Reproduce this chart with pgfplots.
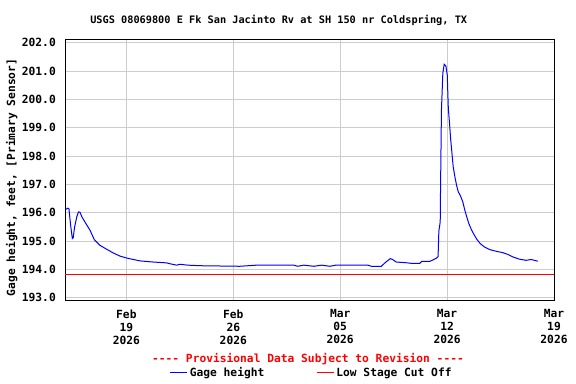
\documentclass[border=0pt]{standalone}
\usepackage{fontspec}
\setmonofont{DejaVu Sans Mono}
\renewcommand{\familydefault}{\ttdefault}
\usepackage{pgfplots}
\pgfplotsset{compat=1.18}
\newcommand{\lblfont}{\ttfamily\bfseries\fontsize{11.3}{13}\selectfont}
\newcommand{\ttlfont}{\ttfamily\bfseries\fontsize{10.3}{12}\selectfont}
\pgfplotstableread{
x y
0.05 196.12
0.14 196.16
0.24 196.14
0.34 195.60
0.46 195.09
0.52 195.12
0.61 195.50
0.75 195.85
0.86 196.03
0.96 196.02
1.09 195.85
1.29 195.67
1.62 195.38
1.90 195.05
2.27 194.85
2.71 194.71
3.14 194.58
3.58 194.47
4.02 194.40
4.89 194.30
5.76 194.26
6.63 194.23
6.85 194.20
7.29 194.15
7.50 194.18
8.02 194.15
8.81 194.13
11.42 194.11
12.54 194.15
14.96 194.15
15.22 194.11
15.61 194.15
16.27 194.11
16.79 194.15
17.32 194.11
17.71 194.15
19.80 194.15
20.05 194.11
20.69 194.11
20.97 194.25
21.28 194.38
21.43 194.35
21.67 194.26
22.22 194.24
22.74 194.21
23.20 194.21
23.33 194.28
23.85 194.28
24.05 194.33
24.31 194.40
24.41 194.45
24.46 195.35
24.55 195.68
24.57 196.82
24.63 199.62
24.72 200.92
24.81 201.24
24.92 201.18
25.01 200.86
25.08 199.68
25.16 199.15
25.23 198.62
25.31 198.15
25.40 197.62
25.51 197.27
25.62 196.97
25.73 196.74
25.88 196.59
26.03 196.38
26.16 196.09
26.29 195.85
26.42 195.62
26.58 195.42
26.75 195.24
26.95 195.06
27.17 194.91
27.45 194.79
27.78 194.70
28.21 194.64
28.65 194.59
28.97 194.53
29.30 194.44
29.74 194.36
30.18 194.32
30.50 194.35
30.94 194.29
}\gage
\begin{document}
\begin{tikzpicture}
\useasboundingbox (-65.3bp,-84bp) rectangle (510.7bp,300bp);
\begin{axis}[
  at={(0,0)}, anchor=south west,
  scale only axis, width=488.7bp, height=260.7bp,
  xmin=0, xmax=32, ymin=192.92, ymax=202.12,
  xtick={4,11,18,25,32},
  xticklabels={Feb\\19\\2026, Feb\\26\\2026, Mar\\05\\2026, Mar\\12\\2026, Mar\\19\\2026},
  ytick={193,194,...,202},
  grid=major,
  major grid style={color=black!20, line width=1bp},
  major tick length=0pt,
  axis line style={line width=1bp, black},
  /pgf/number format/assume math mode=true,
  yticklabel style={font=\lblfont, inner sep=0pt, anchor=east, xshift=-9.3bp,
    /pgf/number format/.cd, fixed, fixed zerofill, precision=1},
  xticklabel style={font=\lblfont, align=center, inner sep=0pt, anchor=north, yshift=-9.5bp},
  ylabel={Gage height, feet, [Primary Sensor]},
  ylabel style={font=\lblfont, at={(axis description cs:-0.1097,0.47)}, anchor=center, rotate=0},
  legend style={at={(axis description cs:0.5042,-0.279)}, anchor=center, draw=none, fill=none,
    legend columns=2, font=\lblfont,
    /tikz/every even column/.append style={column sep=50bp}},
  clip=false,
]
\addplot[blue, line width=1bp, sharp plot] table[x=x,y=y] {\gage};
\addlegendentry{Gage height}
\addplot[red, line width=1bp, sharp plot] coordinates {(0,193.82) (32,193.82)};
\addlegendentry{Low Stage Cut Off}
\node[font=\ttlfont, anchor=center] at (axis description cs:0.4367,1.0713)
  {USGS 08069800 E Fk San Jacinto Rv at SH 150 nr Coldspring, TX};
\node[font=\lblfont, text=red, anchor=center] at (axis description cs:0.4966,-0.2263)
  {---- Provisional Data Subject to Revision ----};
\end{axis}
\end{tikzpicture}
\end{document}
